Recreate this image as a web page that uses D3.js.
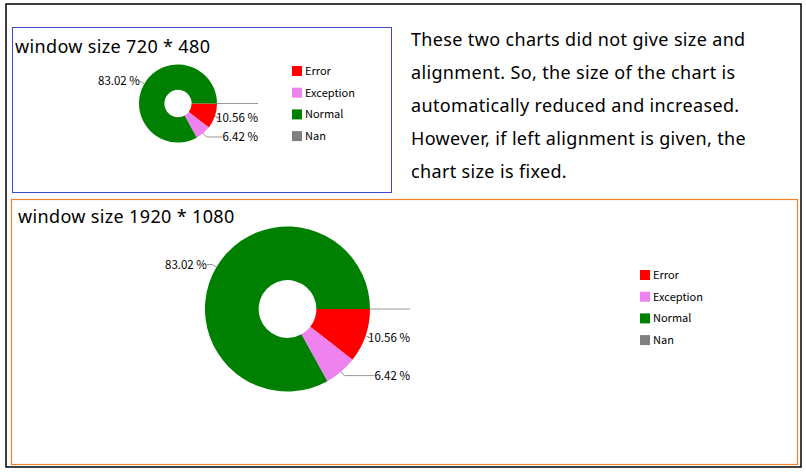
<!DOCTYPE html>
<html>
<head>
<meta charset="utf-8">
<script src="https://cdn.jsdelivr.net/npm/d3@7"></script>
<style>
  body { margin: 0; background: #fff; }
  text { font-family: "Noto Sans CJK KR", "Noto Sans", sans-serif; fill: #000; }
  text.big { font-family: "Noto Sans", sans-serif; letter-spacing: 0.35px; }
</style>
</head>
<body>
<svg id="page" width="806" height="475"></svg>
<script>
// data
const categories = ['Error', 'Exception', 'Normal', 'Nan']
const percents = [10.56, 6.42, 83.02, 0]
const colors = ['#ff0000', '#ee82ee', '#008000', '#808080']
const titles = ['window size 720 * 480', 'window size 1920 * 1080']
const noteLines = [
  'These two charts did not give size and',
  'alignment. So, the size of the chart is',
  'automatically reduced and increased.',
  'However, if left alignment is given, the',
  'chart size is fixed.'
]

const svg = d3.select('#page')

// frames
svg.append('rect').attr('x', 6).attr('y', 4).attr('width', 795).attr('height', 463)
  .attr('fill', 'none').attr('stroke', '#000').attr('stroke-width', 1.5)
svg.append('rect').attr('x', 12.5).attr('y', 27.5).attr('width', 379).attr('height', 165)
  .attr('fill', 'none').attr('stroke', '#3f48cc').attr('stroke-width', 1)
svg.append('rect').attr('x', 11.5).attr('y', 199.5).attr('width', 786).attr('height', 265)
  .attr('fill', 'none').attr('stroke', '#f0822c').attr('stroke-width', 1.2)

// note text
svg.append('g').selectAll('text')
  .data(noteLines)
  .enter().append('text')
  .attr('class', 'big')
  .attr('x', 411)
  .attr('y', (d, i) => 46 + i * 33)
  .style('font-size', '18px')
  .text(d => d)

const rows = categories.map((c, i) => ({ name: c, value: percents[i], color: colors[i] }))

function drawChart(opt) {
  const g = svg.append('g')

  g.append('text')
    .attr('class', 'big')
    .attr('x', opt.titleX).attr('y', opt.titleY)
    .style('font-size', '18px')
    .text(opt.title)

  const pie = d3.pie().sort(null).value(d => d.value)
    .startAngle(Math.PI / 2).endAngle(Math.PI / 2 + 2 * Math.PI)
  const arcs = pie(rows)
  const arc = d3.arc().innerRadius(opt.r * 0.35).outerRadius(opt.r)

  const pg = g.append('g').attr('transform', 'translate(' + opt.cx + ',' + opt.cy + ')')

  pg.selectAll('path.slice')
    .data(arcs)
    .enter().append('path')
    .attr('class', 'slice')
    .attr('d', arc)
    .attr('fill', d => d.data.color)

  // labels with elbow lines
  arcs.forEach(d => {
    const mid = (d.startAngle + d.endAngle) / 2
    const sx = Math.sin(mid), sy = -Math.cos(mid)
    const p0 = [sx * opt.r, sy * opt.r]
    const p1 = [sx * (opt.r + 5), sy * (opt.r + 5)]
    const right = sx >= 0
    const colX = right ? opt.r + opt.gap : -(opt.r + opt.gap)
    let w = 0
    if (d.data.value > 0) {
      const t = pg.append('text')
        .attr('x', colX).attr('y', p1[1])
        .attr('dy', '0.35em')
        .attr('text-anchor', right ? 'end' : 'start')
        .style('font-size', '11.5px')
        .text(d3.format('.2f')(d.data.value) + ' %')
      w = t.node().getComputedTextLength()
    }
    const endX = right ? colX - w : colX + w
    pg.insert('polyline', 'text')
      .attr('points', [p0, p1, [endX, p1[1]]].map(p => p.join(',')).join(' '))
      .attr('fill', 'none')
      .attr('stroke', '#999')
      .attr('stroke-width', 1)
  })

  // legend
  const lg = g.append('g').attr('transform', 'translate(' + opt.legX + ',' + opt.legY + ')')
  const item = lg.selectAll('g')
    .data(rows)
    .enter().append('g')
    .attr('transform', (d, i) => 'translate(0,' + (i * 21.7) + ')')
  item.append('rect')
    .attr('x', 0).attr('y', -5).attr('width', 10).attr('height', 10)
    .attr('fill', d => d.color)
  item.append('text')
    .attr('x', 13).attr('y', 0).attr('dy', '0.35em')
    .style('font-size', '11px')
    .text(d => d.name)
}

drawChart({ title: titles[0], titleX: 15, titleY: 53, cx: 178, cy: 103.5, r: 39, gap: 41, legX: 292, legY: 71 })
drawChart({ title: titles[1], titleX: 18, titleY: 223, cx: 287.5, cy: 309, r: 82.5, gap: 40, legX: 640, legY: 275 })
</script>
</body>
</html>
